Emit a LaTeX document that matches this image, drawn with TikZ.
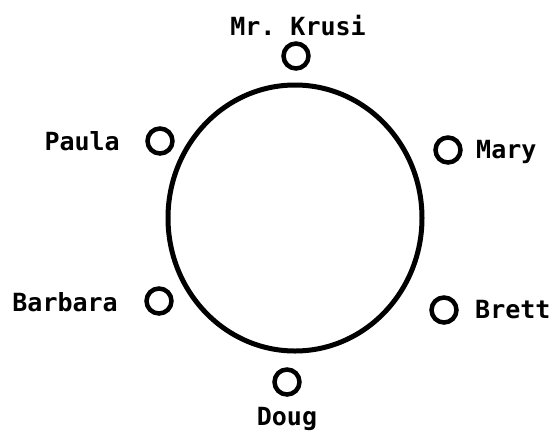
\documentclass[tikz,border=0pt]{standalone}
\usepackage{fontspec}
\setmonofont{DejaVu Sans Mono}
\usetikzlibrary{positioning}

\begin{document}
\begin{tikzpicture}[
    x=1pt, y=-1pt,
    seat/.style={draw, circle, line width=4.5pt, minimum size=25pt, inner sep=0pt},
    pupil/.style={font=\fontsize{25}{28}\selectfont\ttfamily\bfseries, inner sep=0pt}
]
\useasboundingbox (0,0) rectangle (552,432);

% The table
\draw[line width=5pt] (295,218) ellipse [x radius=127pt, y radius=133pt];

% Seats round the table
\node[seat] (krusi) at (296,56) {};
\node[seat] (paula) at (160,141) {};
\node[seat] (mary) at (448,150) {};
\node[seat] (barbara) at (159,301) {};
\node[seat] (brett) at (444,310) {};
\node[seat] (doug) at (287,382) {};

% Names
\node[pupil, anchor=base] (krusilabel) at (298,35) {Mr. Krusi};
\node[pupil, anchor=base east] (paulalabel) at (120,150) {Paula};
\node[pupil, anchor=base west] (marylabel) at (476,158) {Mary};
\node[pupil, anchor=base east] (barbaralabel) at (118,311) {Barbara};
\node[pupil, anchor=base west] (brettlabel) at (475,318) {Brett};
\node[pupil, anchor=base] (douglabel) at (287,425) {Doug};

\end{tikzpicture}
\end{document}
